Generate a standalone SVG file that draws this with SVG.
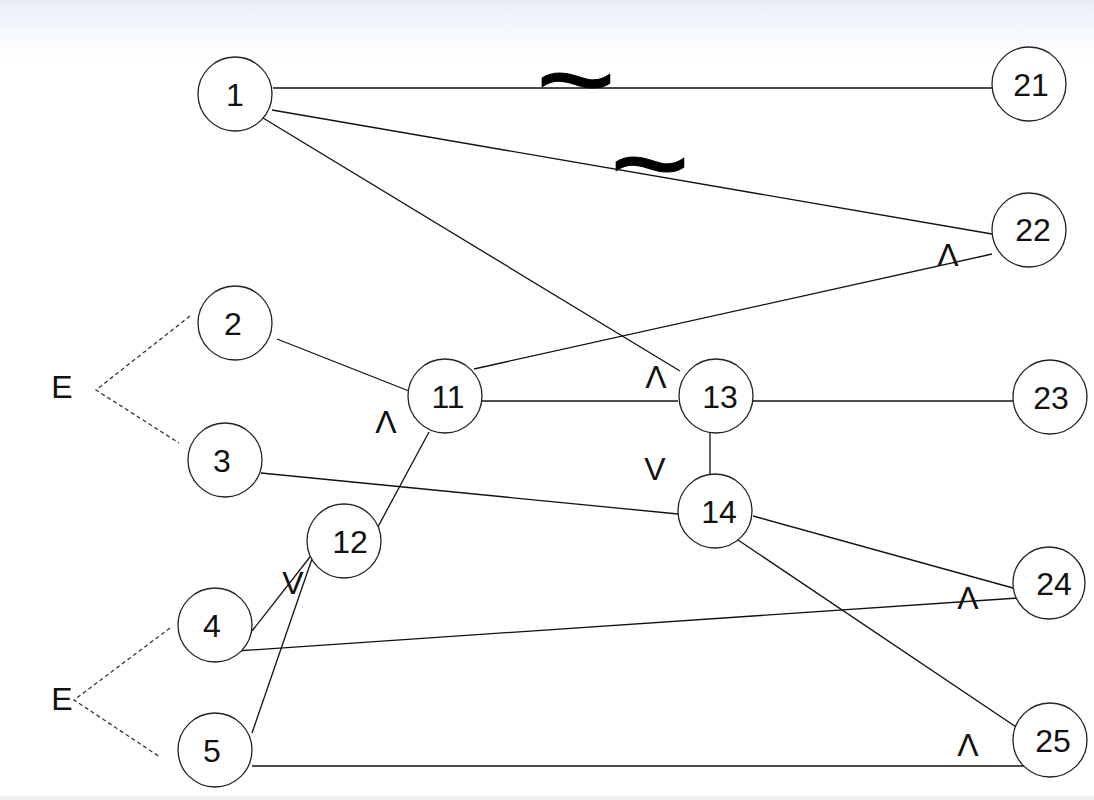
<svg xmlns="http://www.w3.org/2000/svg" width="1094" height="800" viewBox="0 0 1094 800">
<defs>
<linearGradient id="topfade" x1="0" y1="0" x2="0" y2="1">
<stop offset="0" stop-color="#e9eff8"/>
<stop offset="1" stop-color="#ffffff"/>
</linearGradient>
<style>
.node circle{fill:#ffffff;stroke:#222;stroke-width:1.3}
.node text,.lbl{font-family:"Liberation Sans",Arial,sans-serif;font-size:32px;fill:#111;text-anchor:middle}
.edge{stroke:#111;stroke-width:1.3;fill:none}
.dash{stroke:#333;stroke-width:1.3;stroke-dasharray:4 3;fill:none}
.tilde{font-family:"Liberation Sans",Arial,sans-serif;font-size:80px;fill:#000;stroke:#000;stroke-width:0.8;text-anchor:middle}
</style>
</defs>
<rect x="0" y="0" width="1094" height="800" fill="#ffffff"/>
<rect x="0" y="0" width="1094" height="60" fill="url(#topfade)"/>
<rect x="0" y="0" width="1094" height="4" fill="#e4ebf5"/>
<rect x="0" y="796" width="1094" height="4" fill="#f0f0f0"/>

<g id="connectors">
<line class="edge" x1="273" y1="88" x2="992" y2="88"/>
<line class="edge" x1="272" y1="110" x2="992" y2="234"/>
<line class="edge" x1="263" y1="118" x2="680" y2="371"/>
<line class="edge" x1="474" y1="369" x2="992" y2="254"/>
<line class="edge" x1="277" y1="339" x2="409" y2="391"/>
<line class="edge" x1="482" y1="401" x2="678" y2="401"/>
<line class="edge" x1="753" y1="401" x2="1013" y2="401"/>
<line class="edge" x1="710" y1="433" x2="710" y2="474"/>
<line class="edge" x1="261" y1="473" x2="678" y2="514"/>
<line class="edge" x1="429" y1="432" x2="366" y2="549"/>
<line class="edge" x1="317" y1="548" x2="252" y2="631"/>
<line class="edge" x1="314" y1="553" x2="252" y2="733"/>
<line class="edge" x1="236" y1="651" x2="1033" y2="597"/>
<line class="edge" x1="753" y1="516" x2="1013" y2="588"/>
<line class="edge" x1="735" y1="538" x2="1028" y2="735"/>
<line class="edge" x1="252" y1="766" x2="1030" y2="766"/>
<polyline class="dash" points="190,316 96,390 179,443"/>
<polyline class="dash" points="170,628 74,700 160,757"/>
</g>

<g id="marks">
<text class="tilde" transform="translate(576,121) scale(1.7,1.5)">~</text>
<text class="tilde" transform="translate(650,205) scale(1.7,1.5)">~</text>
<text class="lbl" x="948" y="266">Λ</text>
<text class="lbl" x="656" y="388">Λ</text>
<text class="lbl" x="386" y="433">Λ</text>
<text class="lbl" x="655" y="480">V</text>
<text class="lbl" x="293" y="594">V</text>
<text class="lbl" x="968" y="609">Λ</text>
<text class="lbl" x="968" y="756">Λ</text>
<text class="lbl" x="62" y="398">E</text>
<text class="lbl" x="62" y="710">E</text>
</g>

<g id="n1" class="node"><circle cx="235" cy="94" r="37"/><text x="235" y="106">1</text></g>
<g id="n21" class="node"><circle cx="1029" cy="84" r="37"/><text x="1031" y="96">21</text></g>
<g id="n22" class="node"><circle cx="1029" cy="230" r="37"/><text x="1033" y="241">22</text></g>
<g id="n2" class="node"><circle cx="235" cy="323" r="37"/><text x="233" y="335">2</text></g>
<g id="n3" class="node"><circle cx="225" cy="460" r="37"/><text x="222" y="472">3</text></g>
<g id="n11" class="node"><circle cx="445" cy="396" r="37"/><text x="448" y="408">11</text></g>
<g id="n13" class="node"><circle cx="716" cy="396" r="37"/><text x="720" y="408">13</text></g>
<g id="n23" class="node"><circle cx="1050" cy="397" r="37"/><text x="1051" y="409">23</text></g>
<g id="n14" class="node"><circle cx="715" cy="511" r="37"/><text x="719" y="523">14</text></g>
<g id="n12" class="node"><circle cx="344" cy="541" r="37"/><text x="350" y="553">12</text></g>
<g id="n4" class="node"><circle cx="215" cy="625" r="37"/><text x="212" y="637">4</text></g>
<g id="n24" class="node"><circle cx="1049" cy="583" r="36"/><text x="1054" y="595">24</text></g>
<g id="n5" class="node"><circle cx="215" cy="750" r="37"/><text x="212" y="762">5</text></g>
<g id="n25" class="node"><circle cx="1050" cy="740" r="37"/><text x="1053" y="752">25</text></g>
</svg>
